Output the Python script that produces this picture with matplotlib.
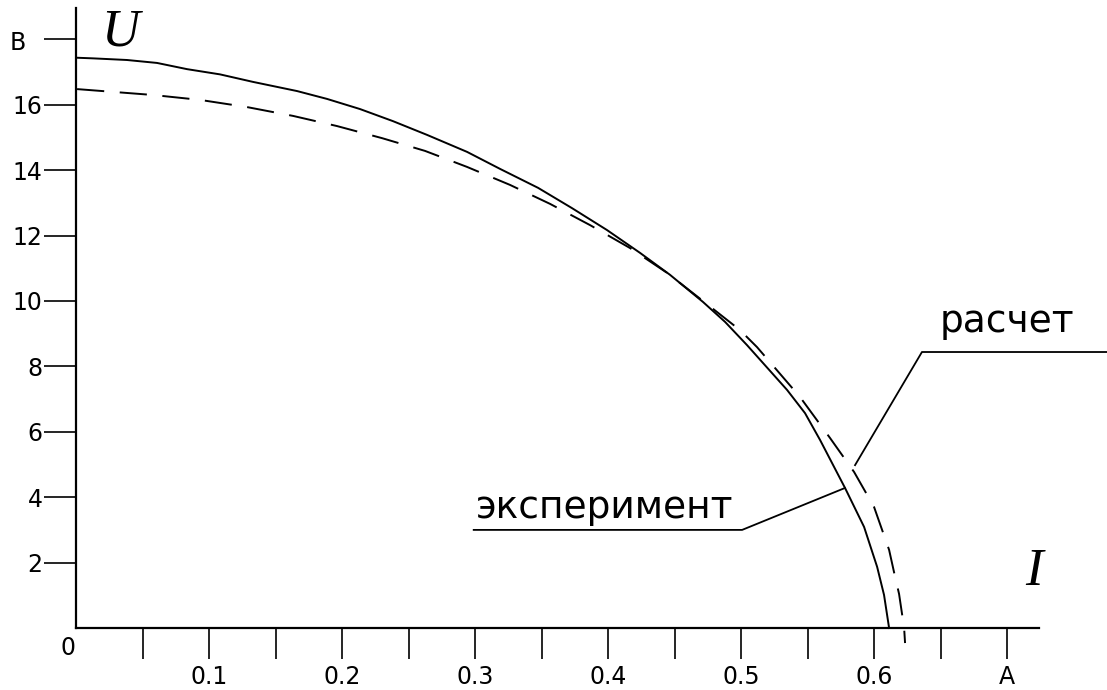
import matplotlib.pyplot as plt

# current, A / voltage, V
i_exp = [0.000, 0.0128, 0.0383, 0.0609, 0.0835, 0.1083, 0.1331, 0.1662, 0.1887,
         0.2135, 0.2383, 0.2639, 0.2940, 0.3188, 0.3474, 0.3729, 0.3992, 0.4241,
         0.4466, 0.4714, 0.4880, 0.5045, 0.5346, 0.5481, 0.5594, 0.5782, 0.5925,
         0.6023, 0.6075, 0.6113]
u_exp = [17.44, 17.42, 17.37, 17.28, 17.09, 16.93, 16.70, 16.42, 16.18,
         15.87, 15.50, 15.08, 14.56, 14.04, 13.46, 12.84, 12.17, 11.47,
         10.80, 9.97, 9.36, 8.65, 7.28, 6.57, 5.75, 4.28, 3.09,
         1.87, 1.01, 0.0]

i_calc = [0.0008, 0.0579, 0.0932, 0.1286, 0.1632, 0.1962, 0.2301, 0.2624, 0.2940,
          0.3263, 0.3564, 0.3865, 0.4165, 0.4444, 0.4714, 0.4992, 0.5120, 0.5444,
          0.5669, 0.5850, 0.6000, 0.6113, 0.6150, 0.6188, 0.6226, 0.6233]
u_calc = [16.48, 16.30, 16.15, 15.93, 15.66, 15.35, 14.98, 14.59, 14.10,
          13.55, 12.97, 12.32, 11.62, 10.86, 10.00, 9.11, 8.59, 7.06,
          5.81, 4.77, 3.70, 2.39, 1.71, 1.04, 0.0, -0.46]

x_ticks = [0.05 * k for k in range(1, 15)]
x_labels = ['', '0.1', '', '0.2', '', '0.3', '', '0.4', '', '0.5', '', '0.6', '', 'А']
y_ticks = [2, 4, 6, 8, 10, 12, 14, 16, 18]
y_labels = ['2', '4', '6', '8', '10', '12', '14', '16', '']

W, H = 1107, 690
fig = plt.figure(figsize=(W / 100, H / 100), dpi=100)
ax = fig.add_axes([76 / W, 62 / H, (1039 - 76) / W, 620 / H])
ax.set_xlim(0, 0.724)
ax.set_ylim(0, 18.96)

ax.plot(i_exp, u_exp, color='black', lw=1.4, clip_on=False)
ax.plot(i_calc, u_calc, color='black', lw=1.4, dashes=(14, 8), clip_on=False)

for s in ['top', 'right']:
    ax.spines[s].set_visible(False)
for s in ['left', 'bottom']:
    ax.spines[s].set_linewidth(1.6)

ax.set_xticks(x_ticks)
ax.set_xticklabels(x_labels)
ax.set_yticks(y_ticks)
ax.set_yticklabels(y_labels)
ax.tick_params(axis='x', direction='out', length=22, width=1.2, pad=5, labelsize=17)
ax.tick_params(axis='y', direction='out', length=23, width=1.2, pad=1, labelsize=17)

ax.text(-0.006, -0.6, '0', fontsize=17, ha='center', va='center')
ax.text(-0.044, 17.9, 'В', fontsize=17, ha='center', va='center')

serif = dict(family='Liberation Serif', style='italic', fontsize=38)
ax.text(0.033, 18.2, 'U', ha='center', va='center', **serif)
ax.text(0.72, 1.7, 'I', ha='center', va='center', **serif)

# leader labels
ax.text(0.6496, 9.05, 'расчет', fontsize=27, ha='left', va='baseline')
ax.plot([0.7750, 0.636, 0.5857], [8.44, 8.44, 4.98], color='black', lw=1.3, clip_on=False)
ax.text(0.3008, 3.36, 'эксперимент', fontsize=27, ha='left', va='baseline')
ax.plot([0.299, 0.5008, 0.578], [3.0, 3.0, 4.28], color='black', lw=1.3, clip_on=False)

fig.savefig('out.png', dpi=100)
